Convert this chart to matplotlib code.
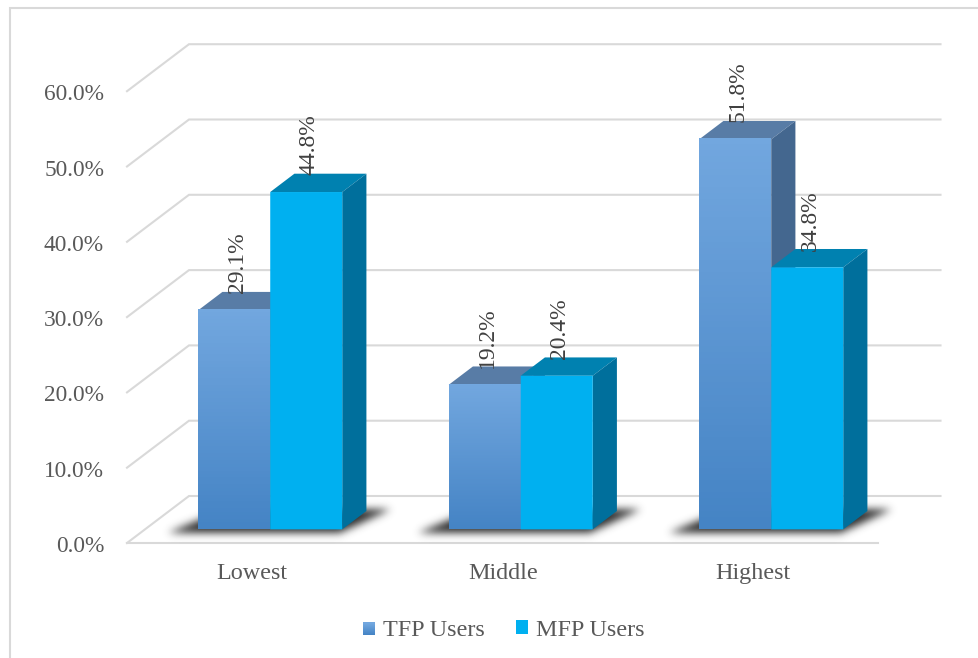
import matplotlib
matplotlib.use("Agg")
import matplotlib.pyplot as plt
import numpy as np
from matplotlib.colors import LinearSegmentedColormap
from matplotlib.legend_handler import HandlerBase
from matplotlib.patches import Patch, Polygon, Rectangle
from matplotlib.path import Path
from matplotlib.transforms import ScaledTranslation

categories = ["Lowest", "Middle", "Highest"]
tfp_users = [29.1, 19.2, 51.8]
mfp_users = [44.8, 20.4, 34.8]
y_ticks = [0, 10, 20, 30, 40, 50, 60]

W, H = 979, 658
TEXT = "#595959"
GRID = "#D9D9D9"
FONT = ["Liberation Serif", "DejaVu Serif"]

# scale of the plot: pixels per category and per percent
PX_X = 250.5
PX_Y = 7.53

# oblique depth of the box, in data units
DEPTH_X = 62 / PX_X
DEPTH_Y = 47 / PX_Y
BAR_W = 72 / PX_X
BAR_D0, BAR_D1 = 0.29, 0.68

TFP_GRAD = LinearSegmentedColormap.from_list("tfp", ["#4584C5", "#72A7DF"])
TFP_STYLE = {"top": "#587CA6", "side": "#44678F"}
MFP_STYLE = {"front": "#00B0F0", "top": "#0081B0", "side": "#006F9C"}


def proj(x, y, d):
    """Oblique projection of a point at depth d (0 = front, 1 = back wall)."""
    return x + d * DEPTH_X, y + d * DEPTH_Y


def draw_box(ax, left, value, style, zorder):
    right = left + BAR_W
    top = Polygon([proj(left, value, BAR_D0), proj(right, value, BAR_D0),
                   proj(right, value, BAR_D1), proj(left, value, BAR_D1)],
                  fc=style["top"], ec="none", zorder=zorder, clip_on=False)
    side = Polygon([proj(right, 0, BAR_D0), proj(right, 0, BAR_D1),
                    proj(right, value, BAR_D1), proj(right, value, BAR_D0)],
                   fc=style["side"], ec="none", zorder=zorder, clip_on=False)
    ax.add_patch(top)
    ax.add_patch(side)
    x0, y0 = proj(left, 0, BAR_D0)
    x1, y1 = proj(right, value, BAR_D0)
    if "front" in style:
        ax.add_patch(Rectangle((x0, y0), x1 - x0, y1 - y0, fc=style["front"],
                               ec="none", zorder=zorder, clip_on=False, snap=False))
    else:
        grad = np.linspace(1, 0, 64).reshape(-1, 1)
        img = ax.imshow(grad, extent=(x0, x1, y0, y1), cmap=TFP_GRAD, vmin=0, vmax=1,
                        aspect="auto", origin="upper", zorder=zorder)
        img.set_clip_on(False)


def draw_shadow(ax, c, sigma=4.0):
    """Soft floor shadow: the footprint polygon rasterised and blurred."""
    left = c - BAR_W
    right = c + BAR_W
    pts = np.array([proj(left - 0.105, 0, BAR_D0 - 0.07), proj(right + 0.005, 0, BAR_D0 - 0.07),
                    proj(right + 0.085, 0, BAR_D1 + 0.04), proj(left, 0, BAR_D1 + 0.04)])
    pad = 4 * sigma
    x0, x1 = pts[:, 0].min() - pad / PX_X, pts[:, 0].max() + pad / PX_X
    y0, y1 = pts[:, 1].min() - pad / PX_Y, pts[:, 1].max() + pad / PX_Y
    nx, ny = int((x1 - x0) * PX_X), int((y1 - y0) * PX_Y)
    gx, gy = np.meshgrid(np.linspace(x0, x1, nx), np.linspace(y1, y0, ny))
    mask = Path(pts).contains_points(np.c_[gx.ravel(), gy.ravel()]).reshape(ny, nx).astype(float)
    r = np.arange(-int(pad), int(pad) + 1)
    kernel = np.exp(-r ** 2 / (2 * sigma ** 2))
    kernel /= kernel.sum()
    mask = np.apply_along_axis(np.convolve, 0, mask, kernel, mode="same")
    mask = np.apply_along_axis(np.convolve, 1, mask, kernel, mode="same")
    rgba = np.zeros((ny, nx, 4))
    rgba[..., :3] = 0.17
    rgba[..., 3] = np.clip(mask, 0, 1)
    img = ax.imshow(rgba, extent=(x0, x1, y0, y1), aspect="auto", origin="upper", zorder=2)
    img.set_clip_on(False)


class GradientSquare(HandlerBase):
    # legend key made of thin stacked strips
    def create_artists(self, legend, orig_handle, xdescent, ydescent, width, height, fontsize, trans):
        n = 12
        size = 12.0 * 0.72
        out = []
        for i in range(n):
            r = Rectangle((width - size, (height - size) / 2 + i * size / n), size, size / n + 0.1,
                          fc=TFP_GRAD(i / (n - 1)), ec="none", transform=trans)
            out.append(r)
        return out


plt.rcParams["font.family"] = FONT
fig = plt.figure(figsize=(W / 100, H / 100), dpi=100, facecolor="white")

px_left, px_right = 127.0, 878.5
px_bottom, px_top = 543, 44
ax = fig.add_axes([px_left / W, 1 - px_bottom / H, (px_right - px_left) / W, (px_bottom - px_top) / H])
ax.patch.set_visible(False)

# chart frame
fig.add_artist(Rectangle((10 / W, -0.01), 1.1, 1 - 8 / H + 0.01, transform=fig.transFigure,
                         fc="none", ec=GRID, lw=1.5))

# walls and floor
for v in y_ticks:
    xs, ys = zip(proj(-0.5, v, 0), proj(-0.5, v, 1), proj(2.5, v, 1))
    ax.plot(xs, ys, color=GRID, lw=1.5, zorder=1, clip_on=False, solid_joinstyle="miter")
ax.plot([-0.5, 2.5], [0, 0], color=GRID, lw=1.5, zorder=1, clip_on=False)

for i in range(len(categories)):
    draw_shadow(ax, i)
    z = 3 + i
    draw_box(ax, i - BAR_W, tfp_users[i], TFP_STYLE, z)
    draw_box(ax, i, mfp_users[i], MFP_STYLE, z + 0.5)

# value labels stand on the back edge of each bar top
for i in range(len(categories)):
    for left, val in [(i - BAR_W, tfp_users[i]), (i, mfp_users[i])]:
        x, _ = proj(left + BAR_W / 2, val, BAR_D0)
        _, y = proj(left + BAR_W / 2, val, BAR_D1)
        ax.text(x + 3 / PX_X, y - 0.2, f"{val:.1f}%", rotation=90, ha="center", va="bottom",
                fontsize=17, color="#404040", zorder=10, clip_on=False)

ax.set_xlim(-0.5, 2.5)
ax.set_ylim(0, (px_bottom - px_top) / PX_Y)
ax.set_xticks(range(len(categories)), categories)
ax.set_yticks(y_ticks, [f"{v:.1f}%" for v in y_ticks])
ax.tick_params(axis="both", length=0, labelcolor=TEXT)
ax.tick_params(axis="y", pad=16.5, labelsize=16.8)
ax.tick_params(axis="x", pad=14.7, labelsize=17.4)
nudge = ScaledTranslation(0, -1 / 100, fig.dpi_scale_trans)
for lab in ax.get_yticklabels():
    lab.set_transform(lab.get_transform() + nudge)
for s in ax.spines.values():
    s.set_visible(False)

tfp_key = Patch(color="#5B98D8")
mfp_key = Rectangle((0, 0), 1, 1, fc=MFP_STYLE["front"], ec="none")
leg = fig.legend([tfp_key, mfp_key], ["TFP Users", "MFP Users"], ncol=2, frameon=False,
                 loc="center", bbox_to_anchor=(503.5 / W, 1 - 630 / H), fontsize=17.4,
                 labelcolor=TEXT, handlelength=0.5, handleheight=0.5, handletextpad=0.33,
                 columnspacing=1.3, handler_map={tfp_key: GradientSquare()})

fig.savefig("out.png", dpi=100)
